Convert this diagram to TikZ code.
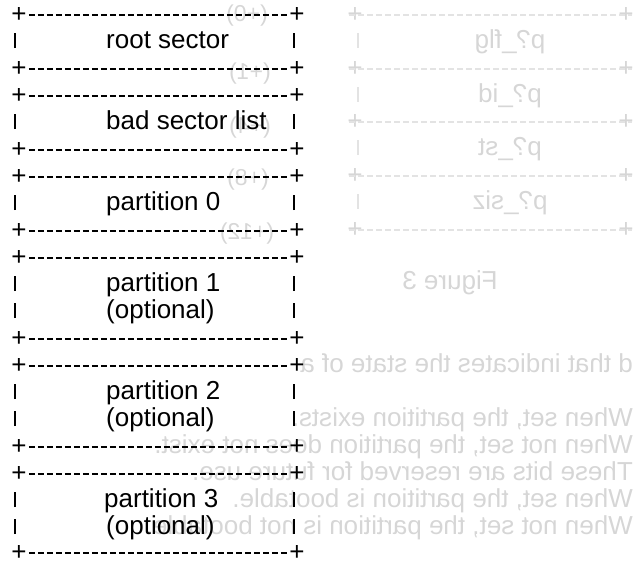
\documentclass[tikz,border=0pt]{standalone}
\usepackage{fontspec}
\setmainfont{Liberation Sans}
\tikzset{
  ascii/.style={font=\fontsize{26}{30}\selectfont, inner sep=0pt},
  dashline/.style={line width=1.9pt, dash pattern=on 6pt off 3pt},
  pipe/.style={line width=1.9pt},
  ghost/.style={font=\fontsize{26}{30}\selectfont, inner sep=0pt, text=black!16, xscale=-1},
  ghostline/.style={black!11, line width=1.3pt, dash pattern=on 6pt off 3pt},
}
% one line of the form +-----+
\newcommand{\border}[2]{
\node[ascii] (#1l) at (19,#2) {+};
\node[ascii] (#1r) at (297,#2) {+};
\draw[dashline] ([xshift=2pt]#1l.east) -- ([xshift=-2pt]#1r.west);
}
% the two | of a text line, at its baseline
\newcommand{\sides}[1]{
\draw[pipe] (15,#1) -- +(0,-15);
\draw[pipe] (294,#1) -- +(0,-15);
}
% the faint box that shows through the page
\newcommand{\ghostborder}[2]{
\node[ghost] (#1l) at (355,#2) {+};
\node[ghost] (#1r) at (626,#2) {+};
\draw[ghostline] ([xshift=2pt]#1l.east) -- ([xshift=-2pt]#1r.west);
}

\begin{document}
\begin{tikzpicture}[x=1pt,y=-1pt]
\useasboundingbox (0,0) rectangle (634,563);

% show-through of the back page
\ghostborder{ga}{15}
\ghostborder{gb}{69}
\ghostborder{gc}{122}
\ghostborder{gd}{176}
\ghostborder{ge}{230}
\foreach \y in {48,102,155,209}
  \draw[black!11, line width=1.3pt] (358,\y) -- +(0,-15);
\node[ghost] (flg) at (510,42) {p?\_flg};
\node[ghost] (pid) at (510,96) {p?\_id};
\node[ghost] (pst) at (510,149) {p?\_st};
\node[ghost] (psiz) at (510,203) {p?\_siz};
\node[ghost, font=\fontsize{23}{26}\selectfont] (off0) at (247,16) {(+0)};
\node[ghost, font=\fontsize{23}{26}\selectfont] (off1) at (250,74) {(+1)};
\node[ghost, font=\fontsize{23}{26}\selectfont] (off4) at (250,128) {(+4)};
\node[ghost, font=\fontsize{23}{26}\selectfont] (off8) at (248,180) {(+8)};
\node[ghost, font=\fontsize{23}{26}\selectfont] (off12) at (247,234) {(+12)};
\node[ghost] (fig) at (450,283) {Figure 3};
\node[ghost, anchor=base west] (state) at (633,372) {d that indicates the state of a};
\node[ghost, anchor=base west] (bit1) at (633,426) {When set, the partition exists.};
\node[ghost, anchor=base west] (bit2) at (633,453) {When not set, the partition does not exist.};
\node[ghost, anchor=base west] (bit3) at (633,480) {These bits are reserved for future use.};
\node[ghost, anchor=base west] (bit4) at (633,507) {When set, the partition is bootable.};
\node[ghost, anchor=base west] (bit5) at (633,534) {When not set, the partition is not bootable.};

% the disk layout
\border{a}{15}
\sides{48}
\node[ascii, anchor=base west] (root) at (106,48) {root sector};
\border{b}{69}

\border{c}{96}
\sides{129}
\node[ascii, anchor=base west] (bad) at (106,129) {bad sector list};
\border{d}{150}

\border{e}{177}
\sides{210}
\node[ascii, anchor=base west] (part0) at (106,210) {partition 0};
\border{f}{231}

\border{g}{258}
\sides{291}
\sides{318}
\node[ascii, anchor=base west] (part1) at (106,291) {partition 1};
\node[ascii, anchor=base west] (opt1) at (106,318) {(optional)};
\border{h}{339}

\border{i}{366}
\sides{399}
\sides{426}
\node[ascii, anchor=base west] (part2) at (106,399) {partition 2};
\node[ascii, anchor=base west] (opt2) at (106,426) {(optional)};
\border{j}{447}

\border{k}{474}
\sides{507}
\sides{534}
\node[ascii, anchor=base west] (part3) at (104,507) {partition 3};
\node[ascii, anchor=base west] (opt3) at (106,534) {(optional)};
\border{l}{553}

\end{tikzpicture}
\end{document}
